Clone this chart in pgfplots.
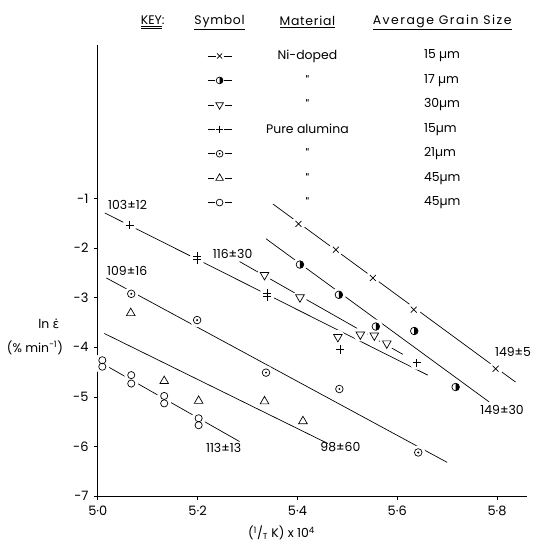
\documentclass[border=0pt]{standalone}
\usepackage{fontspec}
\setmainfont{Poppins}
\newfontfamily\greekfont{DejaVu Sans}
\usepackage{pgfplots}
\usepackage{pgfplotstable}
\pgfplotsset{compat=1.18}
\usetikzlibrary{calc}

% own marks: half filled circle and dotted circle
\pgfdeclareplotmark{halfR}{%
  \pgfpathcircle{\pgfpointorigin}{\pgfplotmarksize}%
  \pgfusepathqstroke
  \pgfpathmoveto{\pgfqpoint{0pt}{\pgfplotmarksize}}%
  \pgfpatharc{90}{-90}{\pgfplotmarksize}%
  \pgfpathclose
  \pgfusepathqfill}
\pgfdeclareplotmark{odot}{%
  \pgfpathcircle{\pgfpointorigin}{\pgfplotmarksize}%
  \pgfusepathqstroke
  \pgfpathcircle{\pgfpointorigin}{0.28\pgfplotmarksize}%
  \pgfusepathqfill}
% white disc, used to cut the lines round the points
\pgfdeclareplotmark{halo}{%
  \pgfpathcircle{\pgfpointorigin}{\pgfplotmarksize}%
  \pgfsetfillcolor{white}%
  \pgfusepathqfill}

% Ni-doped 15 um
\pgfplotstableread{
x y
5.402 -1.51
5.477 -2.03
5.551 -2.60
5.633 -3.24
5.797 -4.43
}\niA
% Ni-doped 17 um
\pgfplotstableread{
x y
5.405 -2.33
5.483 -2.94
5.557 -3.58
5.634 -3.67
5.717 -4.80
}\niB
% Ni-doped 30 um
\pgfplotstableread{
x y
5.334 -2.54
5.405 -2.99
5.481 -3.79
5.526 -3.74
5.554 -3.76
5.579 -3.92
}\niC
% pure alumina 15 um
\pgfplotstableread{
x y
5.064 -1.53
5.199 -2.16
5.199 -2.23
5.339 -2.91
5.339 -2.98
5.485 -4.04
5.639 -4.31
}\puA
% pure alumina 21 um
\pgfplotstableread{
x y
5.067 -2.92
5.199 -3.45
5.337 -4.51
5.484 -4.84
5.642 -6.12
}\puB
% pure alumina 45 um (triangles)
\pgfplotstableread{
x y
5.066 -3.31
5.133 -4.68
5.202 -5.08
5.334 -5.09
5.411 -5.49
}\puC
% pure alumina 45 um (open circles)
\pgfplotstableread{
x y
5.009 -4.26
5.009 -4.39
5.067 -4.56
5.067 -4.73
5.133 -4.98
5.133 -5.13
5.202 -5.43
5.202 -5.57
}\puD

\begin{document}
\begin{tikzpicture}
\fontsize{12.5}{14}\selectfont
\begin{axis}[
  scale only axis,
  width=430bp, height=452bp,
  xmin=5, xmax=5.86, ymin=-7, ymax=2.1,
  axis x line*=bottom, axis y line*=left,
  axis line style={-, line width=1bp},
  xtick={5,5.2,5.4,5.6,5.8},
  xticklabels={5·0,5·2,5·4,5·6,5·8},
  ytick={-7,-6,-5,-4,-3,-2,-1},
  yticklabels={-7,-6,-5,-4,-3,-2,-1},
  tick align=outside,
  major tick length=4bp,
  tick style={line width=0.8bp, black},
  ticklabel style={font=\fontsize{13}{14}\selectfont},
  xticklabel style={yshift=-2bp},
  yticklabel style={xshift=-1bp},
  clip=false,
  every axis plot/.append style={line width=0.7bp, black},
  halo/.style={only marks, mark=halo, mark size=7bp},
]
\coordinate (bl) at (rel axis cs:0,0);
\coordinate (tr) at (rel axis cs:1,1);

% fitted lines
\addplot[no marks] coordinates {(5.351,-1.11) (5.837,-4.70)};
\addplot[no marks] coordinates {(5.337,-1.81) (5.784,-5.10)};
\addplot[no marks] coordinates {(5.284,-2.27) (5.611,-4.14)};
\addplot[no marks] coordinates {(5.014,-1.29) (5.661,-4.56)};
\addplot[no marks] coordinates {(5.017,-2.60) (5.700,-6.32)};
\addplot[no marks] coordinates {(5.013,-3.72) (5.461,-5.94)};
\addplot[no marks] coordinates {(5.015,-4.36) (5.284,-5.90)};

% white gaps round the points
\addplot[halo] table {\niA};
\addplot[halo] table {\niB};
\addplot[halo] table {\niC};
\addplot[halo] table {\puA};
\addplot[halo] table {\puB};
\addplot[halo] table {\puD};

% points
\addplot[only marks, mark=x, mark size=4.2bp] table {\niA};
\addplot[only marks, mark=halfR, mark size=3.8bp] table {\niB};
\addplot[only marks, mark=triangle, mark size=5bp, mark options={rotate=180}] table {\niC};
\addplot[only marks, mark=+, mark size=4.2bp] table {\puA};
\addplot[only marks, mark=odot, mark size=3.8bp] table {\puB};
\addplot[only marks, mark=triangle, mark size=5bp] table {\puC};
\addplot[only marks, mark=o, mark size=3.6bp] table {\puD};

% activation energies
\node[anchor=west] at (axis cs:5.012,-1.12) {103±12};
\node[anchor=west] at (axis cs:5.010,-2.45) {109±16};
\node at (axis cs:5.270,-2.11) {116±30};
\node at (axis cs:5.252,-6.03) {113±13};
\node at (axis cs:5.486,-6.01) {98±60};
\node at (axis cs:5.832,-4.10) {149±5};
\node at (axis cs:5.810,-5.27) {149±30};

% key
\node at (axis cs:5.110,2.56) {\underline{\underline{KEY}}:};
\node at (axis cs:5.244,2.56) {\addfontfeatures{LetterSpace=6}\underline{Symbol}};
\node at (axis cs:5.420,2.56) {\addfontfeatures{LetterSpace=6}\underline{Material}};
\node at (axis cs:5.690,2.56) {\addfontfeatures{LetterSpace=12}\underline{Average Grain Size}};

\addplot[unbounded coords=jump] coordinates {(5.220,1.877) (5.236,1.877) (5.244,nan) (5.252,1.877) (5.268,1.877)};
\addplot[unbounded coords=jump] coordinates {(5.220,1.384) (5.235,1.384) (5.244,nan) (5.253,1.384) (5.268,1.384)};
\addplot[unbounded coords=jump] coordinates {(5.220,0.891) (5.233,0.891) (5.244,nan) (5.255,0.891) (5.268,0.891)};
\addplot[unbounded coords=jump] coordinates {(5.220,0.398) (5.235,0.398) (5.244,nan) (5.253,0.398) (5.268,0.398)};
\addplot[unbounded coords=jump] coordinates {(5.220,-0.095) (5.234,-0.095) (5.244,nan) (5.254,-0.095) (5.268,-0.095)};
\addplot[unbounded coords=jump] coordinates {(5.220,-0.588) (5.233,-0.588) (5.244,nan) (5.255,-0.588) (5.268,-0.588)};
\addplot[unbounded coords=jump] coordinates {(5.220,-1.080) (5.234,-1.080) (5.244,nan) (5.254,-1.080) (5.268,-1.080)};
\addplot[only marks, mark=x, mark size=3.6bp] coordinates {(5.244,1.877)};
\addplot[only marks, mark=halfR, mark size=3.4bp] coordinates {(5.244,1.384)};
\addplot[only marks, mark=triangle, mark size=4.4bp, mark options={rotate=180}] coordinates {(5.244,0.891)};
\addplot[only marks, mark=+, mark size=3.8bp] coordinates {(5.244,0.398)};
\addplot[only marks, mark=odot, mark size=3.4bp] coordinates {(5.244,-0.095)};
\addplot[only marks, mark=triangle, mark size=4.4bp] coordinates {(5.244,-0.588)};
\addplot[only marks, mark=o, mark size=3.4bp] coordinates {(5.244,-1.080)};

\node at (axis cs:5.420,1.877) {Ni-doped};
\node at (axis cs:5.420,1.384) {\textquotedbl};
\node at (axis cs:5.420,0.891) {\textquotedbl};
\node at (axis cs:5.420,0.398) {Pure alumina};
\node at (axis cs:5.420,-0.095) {\textquotedbl};
\node at (axis cs:5.420,-0.588) {\textquotedbl};
\node at (axis cs:5.420,-1.080) {\textquotedbl};
\node[anchor=west] at (axis cs:5.645,1.877) {15 µm};
\node[anchor=west] at (axis cs:5.645,1.384) {17 µm};
\node[anchor=west] at (axis cs:5.645,0.891) {30µm};
\node[anchor=west] at (axis cs:5.645,0.398) {15µm};
\node[anchor=west] at (axis cs:5.645,-0.095) {21µm};
\node[anchor=west] at (axis cs:5.645,-0.588) {45µm};
\node[anchor=west] at (axis cs:5.645,-1.080) {45µm};

% axis labels
\node[inner sep=0pt] at (axis cs:4.902,-3.52) {ln {\greekfont ε̇}};
\node[inner sep=0pt] at (axis cs:4.874,-4.00) {(\% min\textsuperscript{−1})};
\node at (axis cs:5.368,-7.74) {(\textsuperscript{1}/\textsubscript{T} K) x 10\textsuperscript{4}};
\end{axis}
\pgfresetboundingbox
\path[use as bounding box] ([shift={(-98bp,-53bp)}]bl) rectangle ([shift={(9bp,45bp)}]tr);
\end{tikzpicture}
\end{document}
